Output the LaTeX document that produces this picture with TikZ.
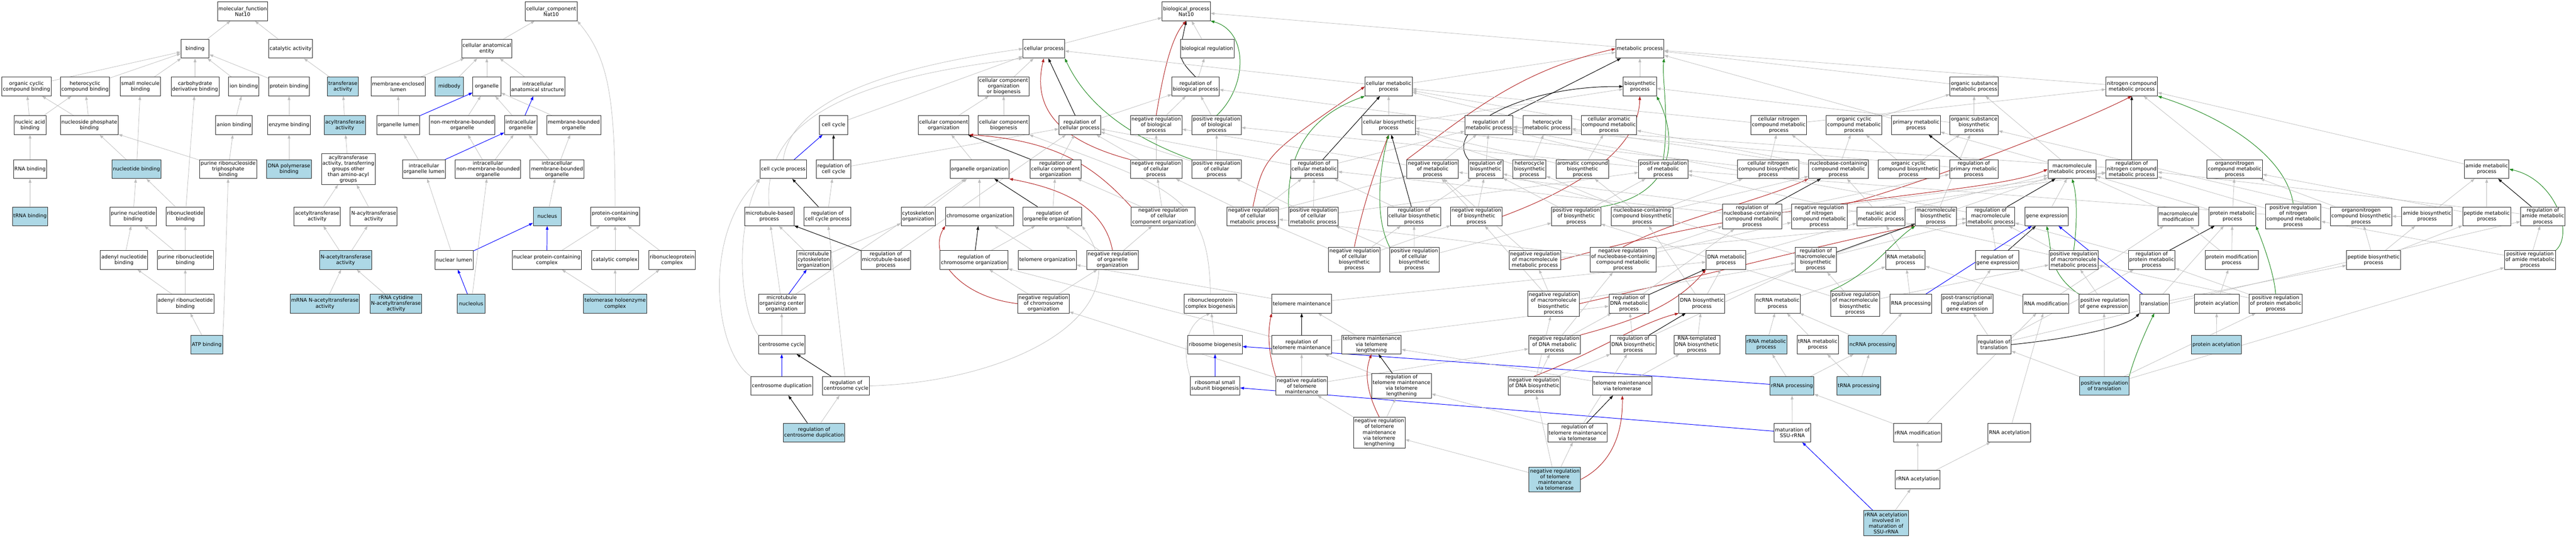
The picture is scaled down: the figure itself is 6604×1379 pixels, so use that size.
\documentclass[tikz,border=0pt]{standalone}
\usepackage{fontspec}
\setmainfont{DejaVu Sans}
\usetikzlibrary{arrows.meta,backgrounds}
\definecolor{lb}{HTML}{ADD8E6}
\definecolor{eg}{HTML}{BEBEBE}
\definecolor{er}{HTML}{B22222}
\definecolor{egr}{HTML}{228B22}
\definecolor{eb}{HTML}{0000FF}
\newcommand\edg[3]{\draw[#1] (#2) -- (#3);}
\begin{document}
\begin{tikzpicture}[x=1pt,y=-1pt,
 box/.style={draw=black!85, line width=1.2pt, fill=white, rectangle, align=center,
   font=\fontsize{13}{14.7}\selectfont, inner xsep=2.5pt, inner ysep=2pt,
   minimum width=72pt, minimum height=48pt},
 hl/.style={box, fill=lb},
 l4/.style={minimum height=64pt},
 l5/.style={minimum height=79pt},
 ge/.style={eg, line width=1pt, -{Triangle[length=10pt,width=7pt]}},
 be/.style={eb, line width=1.3pt, -{Triangle[length=10pt,width=7pt]}},
 ke/.style={black, line width=1.3pt, -{Triangle[length=10pt,width=7pt]}},
 re/.style={er, line width=1.3pt, -{Triangle[length=10pt,width=7pt]}},
 gre/.style={egr, line width=1.3pt, -{Triangle[length=10pt,width=7pt]}}]
\useasboundingbox (0,0) rectangle (6604,1379);
% ---------------- molecular function
\node[box] (mf) at (622,29) {molecular\_function\\Nat10};
\node[box] (bind) at (500,125) {binding};
\node[box] (catal) at (745,125) {catalytic activity};
\node[box] (ocb) at (68,222) {organic cyclic\\compound binding};
\node[box] (hcb) at (218,222) {heterocyclic\\compound binding};
\node[box] (smb) at (360,222) {small molecule\\binding};
\node[box] (cdb) at (500,222) {carbohydrate\\derivative binding};
\node[box] (ion) at (625,222) {ion binding};
\node[box] (protb) at (741,222) {protein binding};
\node[hl] (transf) at (879,222) {transferase\\activity};
\node[box] (mel) at (1021,222) {membrane-enclosed\\lumen};
\node[box] (nab) at (77,321) {nucleic acid\\binding};
\node[box] (npb) at (229,321) {nucleoside phosphate\\binding};
\node[box] (anion) at (600,321) {anion binding};
\node[box] (enzb) at (741,321) {enzyme binding};
\node[hl] (acyl) at (884,321) {acyltransferase\\activity};
\node[box] (orglum) at (1021,321) {organelle lumen};
\node[box] (rnab) at (77,434) {RNA binding};
\node[hl] (ntb) at (350,434) {nucleotide binding};
\node[box] (prtb) at (585,434) {purine ribonucleoside\\triphosphate\\binding};
\node[hl] (dnapb) at (741,434) {DNA polymerase\\binding};
\node[box,l5] (acylo) at (893,434) {acyltransferase\\activity, transferring\\groups other\\than amino-acyl\\groups};
\node[box] (iol) at (1087,434) {intracellular\\organelle lumen};
\node[hl] (trnab) at (77,555) {tRNA binding};
\node[box] (pnb) at (341,555) {purine nucleotide\\binding};
\node[box] (rnb) at (475,555) {ribonucleotide\\binding};
\node[box] (acet) at (813,555) {acetyltransferase\\activity};
\node[box] (nacyl) at (958,555) {N-acyltransferase\\activity};
\node[box] (anb) at (318,667) {adenyl nucleotide\\binding};
\node[box] (prnb) at (475,667) {purine ribonucleotide\\binding};
\node[hl] (nacet) at (886,667) {N-acetyltransferase\\activity};
\node[box] (arnb) at (475,779) {adenyl ribonucleotide\\binding};
\node[hl] (mrnaac) at (833,779) {mRNA N-acetyltransferase\\activity};
\node[hl] (rrnacyt) at (1015,779) {rRNA cytidine\\N-acetyltransferase\\activity};
\node[hl] (atp) at (530,884) {ATP binding};
% ---------------- cellular component
\node[box] (cc) at (1413,29) {cellular\_component\\Nat10};
\node[box] (cae) at (1248,125) {cellular anatomical\\entity};
\node[hl] (midbody) at (1152,222) {midbody};
\node[box] (organelle) at (1248,222) {organelle};
\node[box] (ias) at (1378,222) {intracellular\\anatomical structure};
\node[box] (nmbo) at (1185,321) {non-membrane-bounded\\organelle};
\node[box] (io) at (1335,321) {intracellular\\organelle};
\node[box] (mbo) at (1471,321) {membrane-bounded\\organelle};
\node[box] (inmbo) at (1251,434) {intracellular\\non-membrane-bounded\\organelle};
\node[box] (imbo) at (1428,434) {intracellular\\membrane-bounded\\organelle};
\node[hl] (nucleus) at (1403,555) {nucleus};
\node[box] (pcc) at (1577,555) {protein-containing\\complex};
\node[box] (nuclum) at (1164,667) {nuclear lumen};
\node[box] (npcc) at (1402,667) {nuclear protein-containing\\complex};
\node[box] (catcx) at (1577,667) {catalytic complex};
\node[box] (rnpc) at (1723,667) {ribonucleoprotein\\complex};
\node[hl] (nucleolus) at (1208,779) {nucleolus};
\node[hl] (telhc) at (1577,779) {telomerase holoenzyme\\complex};
% ---------------- biological process: cell cycle
\node[box] (cellcycle) at (2137,321) {cell cycle};
\node[box] (ccp) at (2008,434) {cell cycle process};
\node[box] (regcc) at (2137,434) {regulation of\\cell cycle};
\node[box] (mtbp) at (1972,555) {microtubule-based\\process};
\node[box] (regccp) at (2121,555) {regulation of\\cell cycle process};
\node[box] (mtco) at (2086,667) {microtubule\\cytoskeleton\\organization};
\node[box] (mtoc) at (2004,779) {microtubule\\organizing center\\organization};
\node[box] (centcyc) at (2004,884) {centrosome cycle};
\node[box] (centdup) at (2004,990) {centrosome duplication};
\node[box] (regcentcyc) at (2169,990) {regulation of\\centrosome cycle};
\node[hl] (regcentdup) at (2087,1110) {regulation of\\centrosome duplication};
% ---------------- biological process: general
\node[box] (bp) at (3041,29) {biological\_process\\Nat10};
\node[box] (cp) at (2676,125) {cellular process};
\node[box] (breg) at (3095,125) {biological regulation};
\node[box] (ccob) at (2573,222) {cellular component\\organization\\or biogenesis};
\node[box] (rbp) at (3065,222) {regulation of\\biological process};
\node[box] (cco) at (2419,321) {cellular component\\organization};
\node[box] (ccb) at (2573,321) {cellular component\\biogenesis};
\node[box] (rcp) at (2768,321) {regulation of\\cellular process};
\node[box] (nrbp) at (2964,321) {negative regulation\\of biological\\process};
\node[box] (prbp) at (3119,321) {positive regulation\\of biological\\process};
\node[box] (oo) at (2511,434) {organelle organization};
\node[box] (rcco) at (2706,434) {regulation of\\cellular component\\organization};
\node[box] (nrcp) at (2964,434) {negative regulation\\of cellular\\process};
\node[box] (prcp) at (3119,434) {positive regulation\\of cellular\\process};
\node[box] (cso) at (2354,555) {cytoskeleton\\organization};
\node[box] (chro) at (2511,555) {chromosome organization};
\node[box] (roo) at (2698,555) {regulation of\\organelle organization};
\node[box] (nrcco) at (2982,555) {negative regulation\\of cellular\\component organization};
\node[box] (nrcmp) at (3212,555) {negative regulation\\of cellular\\metabolic process};
\node[box] (rmtbp) at (2271,667) {regulation of\\microtubule-based\\process};
\node[box] (rchro) at (2497,667) {regulation of\\chromosome organization};
\node[box] (telo) at (2685,667) {telomere organization};
\node[box] (nroo) at (2852,667) {negative regulation\\of organelle\\organization};
\node[box] (nrchro) at (2675,779) {negative regulation\\of chromosome\\organization};
\node[box] (rnpcb) at (3103,779) {ribonucleoprotein\\complex biogenesis};
\node[box] (ribob) at (3115,884) {ribosome biogenesis};
\node[box] (rssb) at (3115,990) {ribosomal small\\subunit biogenesis};
\node[box] (telm) at (3337,779) {telomere maintenance};
\node[box] (rtelm) at (3337,884) {regulation of\\telomere maintenance};
\node[box] (nrtelm) at (3337,990) {negative regulation\\of telomere\\maintenance};
% ---------------- metabolic
\node[box] (mp) at (4204,125) {metabolic process};
\node[box] (cmp) at (3560,222) {cellular metabolic\\process};
\node[box] (bsp) at (4204,222) {biosynthetic\\process};
\node[box] (cbp) at (3560,321) {cellular biosynthetic\\process};
\node[box] (rmp) at (3817,321) {regulation of\\metabolic process};
\node[box] (hmp) at (3967,321) {heterocycle\\metabolic process};
\node[box] (camp) at (4125,321) {cellular aromatic\\compound metabolic\\process};
\node[box] (rcmp) at (3369,434) {regulation of\\cellular metabolic\\process};
\node[box] (nrmp) at (3673,434) {negative regulation\\of metabolic\\process};
\node[box] (rbsp) at (3809,434) {regulation of\\biosynthetic\\process};
\node[box] (hbp) at (3921,434) {heterocycle\\biosynthetic\\process};
\node[box] (acbp) at (4057,434) {aromatic compound\\biosynthetic\\process};
\node[box] (prmp) at (4264,434) {positive regulation\\of metabolic\\process};
\node[box] (prcmp) at (3367,555) {positive regulation\\of cellular\\metabolic process};
\node[box] (rcbp) at (3625,555) {regulation of\\cellular biosynthetic\\process};
\node[box] (nrbsp) at (3785,555) {negative regulation\\of biosynthetic\\process};
\node[box] (prbsp) at (4041,555) {positive regulation\\of biosynthetic\\process};
\node[box] (nbcbp) at (4210,555) {nucleobase-containing\\compound biosynthetic\\process};
\node[box,l4] (nrcbp) at (3472,666) {negative regulation\\of cellular\\biosynthetic\\process};
\node[box,l4] (prcbp) at (3626,666) {positive regulation\\of cellular\\biosynthetic\\process};
\node[box] (nrmmp) at (3935,667) {negative regulation\\of macromolecule\\metabolic process};
\node[box,l4] (nrnbcmp) at (4161,666) {negative regulation\\of nucleobase-containing\\compound metabolic\\process};
\node[box] (dnamp) at (4425,667) {DNA metabolic\\process};
\node[box,l4] (nrmbp) at (3983,779) {negative regulation\\of macromolecule\\biosynthetic\\process};
\node[box] (rdnamp) at (4176,779) {regulation of\\DNA metabolic\\process};
\node[box] (dnabp) at (4363,779) {DNA biosynthetic\\process};
\node[box] (tmtl) at (3516,884) {telomere maintenance\\via telomere\\lengthening};
\node[box] (nrdnamp) at (3985,884) {negative regulation\\of DNA metabolic\\process};
\node[box] (rdnabp) at (4187,884) {regulation of\\DNA biosynthetic\\process};
\node[box] (rtdbp) at (4350,884) {RNA-templated\\DNA biosynthetic\\process};
\node[box,l4] (rtmtl) at (3593,990) {regulation of\\telomere maintenance\\via telomere\\lengthening};
\node[box] (nrdnabp) at (3933,990) {negative regulation\\of DNA biosynthetic\\process};
\node[box] (tmvt) at (4159,990) {telomere maintenance\\via telomerase};
\node[box,l5] (nrtmtl) at (3536,1110) {negative regulation\\of telomere\\maintenance\\via telomere\\lengthening};
\node[box] (rtmvt) at (4044,1110) {regulation of\\telomere maintenance\\via telomerase};
\node[hl,l4] (nrtmvt) at (3986,1230) {negative regulation\\of telomere\\maintenance\\via telomerase};
\node[box] (osmp) at (5061,222) {organic substance\\metabolic process};
\node[box] (ncmp) at (5465,222) {nitrogen compound\\metabolic process};
\node[box] (cncmp) at (4560,321) {cellular nitrogen\\compound metabolic\\process};
\node[box] (occmp) at (4753,321) {organic cyclic\\compound metabolic\\process};
\node[box] (pmp) at (4912,321) {primary metabolic\\process};
\node[box] (osbp) at (5061,321) {organic substance\\biosynthetic\\process};
\node[box] (cncbp) at (4533,434) {cellular nitrogen\\compound biosynthetic\\process};
\node[box] (nbcmp) at (4713,434) {nucleobase-containing\\compound metabolic\\process};
\node[box] (occbp) at (4893,434) {organic cyclic\\compound biosynthetic\\process};
\node[box] (rpmp) at (5060,434) {regulation of\\primary metabolic\\process};
\node[box] (mmp) at (5312,434) {macromolecule\\metabolic process};
\node[box] (rncmp) at (5465,434) {regulation of\\nitrogen compound\\metabolic process};
\node[box,l4] (rnbcmp) at (4492,555) {regulation of\\nucleobase-containing\\compound metabolic\\process};
\node[box,l4] (nrncmp) at (4664,555) {negative regulation\\of nitrogen\\compound metabolic\\process};
\node[box] (namp) at (4822,555) {nucleic acid\\metabolic process};
\node[box] (mbp) at (4963,555) {macromolecule\\biosynthetic\\process};
\node[box] (rmmp) at (5103,555) {regulation of\\macromolecule\\metabolic process};
\node[box] (gexp) at (5247,555) {gene expression};
\node[box,l4] (rmbp) at (4655,666) {regulation of\\macromolecule\\biosynthetic\\process};
\node[box] (rnamp) at (4885,667) {RNA metabolic\\process};
\node[box] (rgexp) at (5120,667) {regulation of\\gene expression};
\node[box] (prmmp) at (5316,667) {positive regulation\\of macromolecule\\metabolic process};
\node[box] (rprmp) at (5516,667) {regulation of\\protein metabolic\\process};
\node[box] (ncrnamp) at (4557,779) {ncRNA metabolic\\process};
\node[box,l4] (prmbp) at (4756,779) {positive regulation\\of macromolecule\\biosynthetic\\process};
\node[box] (rnaproc) at (4899,779) {RNA processing};
\node[box] (ptrge) at (5043,779) {post-transcriptional\\regulation of\\gene expression};
\node[box] (rnamod) at (5245,779) {RNA modification};
\node[box] (prgexp) at (5394,779) {positive regulation\\of gene expression};
\node[box] (transl) at (5523,779) {translation};
\node[hl] (rrnamp) at (4528,884) {rRNA metabolic\\process};
\node[box] (trnamp) at (4660,884) {tRNA metabolic\\process};
\node[hl] (ncrnaproc) at (4800,884) {ncRNA processing};
\node[box] (rtransl) at (5112,884) {regulation of\\translation};
\node[hl] (rrnaproc) at (4594,990) {rRNA processing};
\node[hl] (trnaproc) at (4765,990) {tRNA processing};
\node[hl] (ptransl) at (5395,990) {positive regulation\\of translation};
\node[box] (matssu) at (4595,1110) {maturation of\\SSU-rRNA};
\node[box] (rrnamod) at (4916,1110) {rRNA modification};
\node[box] (rnaacet) at (5151,1110) {RNA acetylation};
\node[box] (rrnaacet) at (4916,1230) {rRNA acetylation};
\node[hl,l4] (rrnaacetm) at (4835,1342) {rRNA acetylation\\involved in\\maturation of\\SSU-rRNA};
\node[box] (oncmp) at (5729,434) {organonitrogen\\compound metabolic\\process};
\node[box] (amp) at (6375,434) {amide metabolic\\process};
\node[box] (mmod) at (5584,555) {macromolecule\\modification};
\node[box] (protmp) at (5723,555) {protein metabolic\\process};
\node[box,l4] (prncmp) at (5879,555) {positive regulation\\of nitrogen\\compound metabolic\\process};
\node[box] (oncbp) at (6053,555) {organonitrogen\\compound biosynthetic\\process};
\node[box] (abp) at (6222,555) {amide biosynthetic\\process};
\node[box] (pepmp) at (6375,555) {peptide metabolic\\process};
\node[box] (ramp) at (6519,555) {regulation of\\amide metabolic\\process};
\node[box] (pmodp) at (5721,667) {protein modification\\process};
\node[box] (pepbp) at (6085,667) {peptide biosynthetic\\process};
\node[box] (pramp) at (6486,667) {positive regulation\\of amide metabolic\\process};
\node[box] (pacyl) at (5683,779) {protein acylation};
\node[box] (prprmp) at (5834,779) {positive regulation\\of protein metabolic\\process};
\node[hl] (pacet) at (5682,884) {protein acetylation};
% ================= edges
\begin{scope}[on background layer]
\fill[white] (0,0) rectangle (6604,1379);
% MF
\edg{ge}{bind}{mf}\edg{ge}{catal}{mf}
\edg{ge}{ocb}{bind}\edg{ge}{hcb}{bind}\edg{ge}{smb}{bind}\edg{ge}{cdb}{bind}\edg{ge}{ion}{bind}\edg{ge}{protb}{bind}
\edg{ge}{transf}{catal}\edg{ge}{mel}{cae}
\edg{ge}{nab}{ocb}\edg{ge}{nab}{hcb}\edg{ge}{npb}{ocb}\edg{ge}{npb}{hcb}
\edg{ge}{anion}{ion}\edg{ge}{enzb}{protb}\edg{ge}{acyl}{transf}
\edg{ge}{orglum}{mel}\edg{be}{orglum}{organelle}
\edg{ge}{rnab}{nab}\edg{ge}{ntb}{npb}\edg{ge}{ntb}{smb}
\edg{ge}{prtb}{npb}\edg{ge}{prtb}{anion}\edg{ge}{dnapb}{enzb}\edg{ge}{acylo}{acyl}
\edg{ge}{iol}{orglum}\edg{be}{iol}{io}
\edg{ge}{trnab}{rnab}\edg{ge}{pnb}{ntb}\edg{ge}{rnb}{ntb}\edg{ge}{rnb}{cdb}
\edg{ge}{acet}{acylo}\edg{ge}{nacyl}{acylo}
\edg{ge}{anb}{pnb}\edg{ge}{prnb}{pnb}\edg{ge}{prnb}{rnb}
\edg{ge}{nacet}{acet}\edg{ge}{nacet}{nacyl}
\edg{ge}{arnb}{anb}\edg{ge}{arnb}{prnb}
\edg{ge}{atp}{arnb}
\draw[ge] (atp.north east) .. controls (575,800) and (580,600) .. (prtb.south);
\edg{ge}{mrnaac}{nacet}\edg{ge}{rrnacyt}{nacet}
% CC
\edg{ge}{cae}{cc}
\draw[ge] (pcc.north) .. controls (1577,250) and (1560,150) .. (cc.south east);
\edg{ge}{midbody}{cae}\edg{ge}{organelle}{cae}\edg{ge}{ias}{cae}
\edg{ge}{nmbo}{organelle}\edg{ge}{io}{organelle}\edg{ge}{mbo}{organelle}
\edg{be}{io}{ias}
\edg{ge}{inmbo}{nmbo}\edg{ge}{inmbo}{io}\edg{ge}{imbo}{io}\edg{ge}{imbo}{mbo}
\edg{ge}{nucleus}{imbo}
\edg{be}{nuclum}{nucleus}\edg{ge}{nuclum}{iol}
\edg{be}{npcc}{nucleus}\edg{ge}{npcc}{pcc}
\edg{ge}{catcx}{pcc}\edg{ge}{rnpc}{pcc}
\edg{be}{nucleolus}{nuclum}\edg{ge}{nucleolus}{inmbo}
\edg{ge}{telhc}{npcc}\edg{ge}{telhc}{catcx}\edg{ge}{telhc}{rnpc}
% cell cycle
\edg{ge}{cellcycle}{cp}
\draw[ge] (ccp.north) .. controls (2030,250) and (2300,170) .. (cp.west);
\draw[ge] (mtbp.north) .. controls (1950,300) and (2200,200) .. (cp.south west);
\edg{be}{ccp}{cellcycle}\edg{ke}{regcc}{cellcycle}\edg{ge}{regcc}{rcp}
\edg{ke}{regccp}{ccp}\edg{ge}{regccp}{regcc}
\edg{ge}{mtco}{mtbp}\edg{ge}{mtco}{cso}
\edg{be}{mtoc}{mtco}\edg{ge}{mtoc}{mtbp}\edg{ge}{mtoc}{oo}
\edg{ge}{centcyc}{mtoc}
\draw[ge] (centcyc.north west) .. controls (1900,800) and (1880,600) .. (ccp.south west);
\edg{be}{centdup}{centcyc}
\draw[ge] (centdup.north west) .. controls (1830,900) and (1800,600) .. (ccp.south west);
\edg{ke}{regcentcyc}{centcyc}\edg{ge}{regcentcyc}{regccp}
\draw[ge] (regcentcyc.east) .. controls (2600,980) and (2930,800) .. (roo.south east);
\edg{ke}{regcentdup}{centdup}\edg{ge}{regcentdup}{regcentcyc}
% BP general
\edg{ge}{cp}{bp}\edg{ge}{breg}{bp}\edg{ge}{mp}{bp}
\edg{ge}{rbp}{breg}\draw[ke] (rbp.north) .. controls (3020,150) .. (bp.south);
\draw[re] (nrbp.north) .. controls (2980,200) and (3000,100) .. (bp.south);
\edg{ge}{nrbp}{rbp}
\draw[gre] (prbp.north) .. controls (3200,220) and (3200,80) .. (bp.south east);
\edg{ge}{prbp}{rbp}
\edg{ge}{ccob}{cp}
\edg{ke}{rcp}{cp}\edg{ge}{rcp}{rbp}
\draw[re] (nrcp.north west) .. controls (2750,370) and (2640,300) .. (cp.south);
\edg{ge}{nrcp}{nrbp}\edg{ge}{nrcp}{rcp}
\draw[gre] (prcp.north west) .. controls (2950,370) and (2800,300) .. (cp.south east);
\edg{ge}{prcp}{prbp}\edg{ge}{prcp}{rcp}
\edg{ge}{cco}{ccob}\edg{ge}{ccb}{ccob}
\edg{ke}{rcco}{cco}\edg{ge}{rcco}{rcp}
\draw[re] (nrcco.north west) .. controls (2800,420) and (2700,360) .. (cco.south east);
\edg{ge}{nrcco}{rcco}\edg{ge}{nrcco}{nrcp}
\edg{ge}{oo}{cco}\edg{ge}{cso}{oo}\edg{ge}{chro}{oo}
\edg{ke}{roo}{oo}\edg{ge}{roo}{rcco}
\draw[re] (nroo.north) .. controls (2830,520) and (2700,480) .. (oo.south east);
\edg{ge}{nroo}{roo}\edg{ge}{nroo}{nrcco}
\edg{ge}{nrcmp}{nrcp}\draw[re] (nrcmp.north) .. controls (3240,400) .. (cmp.west);
\edg{ge}{nrcmp}{nrmp}\edg{ge}{nrcmp}{rcmp}
\edg{ke}{rchro}{chro}\edg{ge}{rchro}{roo}\edg{ge}{telo}{chro}
\edg{ke}{rmtbp}{mtbp}\edg{ge}{rmtbp}{rcp}
\edg{ge}{nrchro}{rchro}\edg{ge}{nrchro}{nroo}
\draw[re] (nrchro.west) .. controls (2450,760) and (2380,650) .. (chro.south west);
\edg{ge}{telm}{telo}\edg{ge}{telm}{dnamp}
\edg{ke}{rtelm}{telm}\edg{ge}{rtelm}{rchro}\edg{ge}{rtelm}{rdnamp}
\edg{ge}{nrtelm}{rtelm}
\draw[re] (nrtelm.north west) .. controls (3250,900) and (3250,850) .. (telm.south west);
\edg{ge}{nrtelm}{nrchro}\edg{ge}{nrtelm}{nrdnamp}
\draw[ge] (rnpcb.north) .. controls (3100,500) and (3000,480) .. (ccb.south east);
\edg{ge}{ribob}{rnpcb}
\edg{be}{rssb}{ribob}
\draw[ge] (rssb.north west) .. controls (3030,900) and (3040,830) .. (rnpcb.south);
\edg{be}{rrnaproc}{ribob}\edg{be}{matssu}{rssb}
% metabolic
\edg{ge}{cmp}{mp}\edg{ge}{cmp}{cp}\edg{ge}{bsp}{mp}
\edg{ge}{cbp}{cmp}\edg{ge}{cbp}{bsp}
\edg{ke}{rmp}{mp}\edg{ge}{rmp}{rbp}
\edg{ge}{hmp}{cmp}\edg{ge}{camp}{cmp}
\edg{ke}{rcmp}{cmp}\edg{ge}{rcmp}{rmp}\edg{ge}{rcmp}{rcp}
\draw[re] (nrmp.north west) .. controls (3780,280) and (3900,180) .. (mp.west);
\edg{ge}{nrmp}{rmp}\edg{ge}{nrmp}{nrbp}
\draw[ke] (rbsp.north west) .. controls (3700,330) and (3900,220) .. (bsp.west);
\edg{ge}{rbsp}{rmp}
\edg{ge}{hbp}{hmp}\edg{ge}{hbp}{cbp}\edg{ge}{acbp}{camp}\edg{ge}{acbp}{cbp}
\draw[gre] (prmp.north) .. controls (4280,300) and (4260,200) .. (mp.south east);
\edg{ge}{prmp}{rmp}\edg{ge}{prmp}{prbp}
\draw[gre] (prcmp.north west) .. controls (3300,400) and (3350,300) .. (cmp.south west);
\edg{ge}{prcmp}{rcmp}\edg{ge}{prcmp}{prmp}\edg{ge}{prcmp}{prcp}
\edg{ke}{rcbp}{cbp}\edg{ge}{rcbp}{rbsp}\edg{ge}{rcbp}{rcmp}
\draw[re] (nrbsp.east) .. controls (4000,500) and (4200,400) .. (bsp.south);
\edg{ge}{nrbsp}{rbsp}\edg{ge}{nrbsp}{nrmp}
\draw[gre] (prbsp.north east) .. controls (4300,500) and (4300,350) .. (bsp.south east);
\edg{ge}{prbsp}{rbsp}\edg{ge}{prbsp}{prmp}
\edg{ge}{nbcbp}{nbcmp}\edg{ge}{nbcbp}{hbp}\edg{ge}{nbcbp}{acbp}\edg{ge}{nbcbp}{cncbp}
\draw[re] (nrcbp.north) .. controls (3500,500) and (3540,400) .. (cbp.south);
\edg{ge}{nrcbp}{rcbp}\edg{ge}{nrcbp}{nrbsp}\edg{ge}{nrcbp}{nrcmp}
\draw[gre] (prcbp.north west) .. controls (3520,550) and (3540,420) .. (cbp.south);
\edg{ge}{prcbp}{rcbp}\edg{ge}{prcbp}{prbsp}\edg{ge}{prcbp}{prcmp}
\draw[re] (nrmmp.east) .. controls (4600,500) and (5100,500) .. (mmp.west);
\edg{ge}{nrmmp}{rmmp}\edg{ge}{nrmmp}{nrmp}
\draw[re] (nrnbcmp.north) .. controls (4300,560) and (4500,520) .. (nbcmp.south west);
\edg{ge}{nrnbcmp}{rnbcmp}\edg{ge}{nrnbcmp}{nrcmp}\edg{ge}{nrnbcmp}{nrncmp}
\edg{ge}{dnamp}{namp}
\draw[re] (nrmbp.east) .. controls (4400,700) and (4700,620) .. (mbp.south west);
\edg{ge}{nrmbp}{nrmmp}\edg{ge}{nrmbp}{nrbsp}\edg{ge}{nrmbp}{rmbp}
\edg{ke}{rdnamp}{dnamp}\edg{ge}{rdnamp}{rnbcmp}
\edg{ge}{dnabp}{dnamp}\edg{ge}{dnabp}{nbcbp}\edg{ge}{dnabp}{mbp}
\edg{ge}{tmtl}{telm}
\draw[re] (nrdnamp.north east) .. controls (4200,820) and (4300,780) .. (dnamp.south west);
\edg{ge}{nrdnamp}{rdnamp}\edg{ge}{nrdnamp}{nrnbcmp}
\edg{ke}{rdnabp}{dnabp}\edg{ge}{rdnabp}{rdnamp}\edg{ge}{rdnabp}{rmbp}
\edg{ge}{rtdbp}{dnabp}
\edg{ke}{rtmtl}{tmtl}\edg{ge}{rtmtl}{rtelm}
\draw[re] (nrdnabp.north) .. controls (4100,900) and (4200,830) .. (dnabp.south west);
\edg{ge}{nrdnabp}{rdnabp}\edg{ge}{nrdnabp}{nrdnamp}\edg{ge}{nrdnabp}{nrmbp}
\edg{ge}{tmvt}{tmtl}\edg{ge}{tmvt}{rtdbp}
\edg{ge}{nrtmtl}{rtmtl}
\draw[re] (nrtmtl.north) .. controls (3500,1000) and (3500,950) .. (tmtl.south);
\edg{ge}{nrtmtl}{nrtelm}
\edg{ke}{rtmvt}{tmvt}\edg{ge}{rtmvt}{rtmtl}\edg{ge}{rtmvt}{rdnabp}
\edg{ge}{nrtmvt}{rtmvt}
\draw[re] (nrtmvt.east) .. controls (4150,1180) and (4160,1080) .. (tmvt.south);
\edg{ge}{nrtmvt}{nrtmtl}\edg{ge}{nrtmvt}{nrdnabp}
\edg{ge}{osmp}{mp}\edg{ge}{ncmp}{mp}
\edg{ge}{cncmp}{cmp}\edg{ge}{cncmp}{ncmp}\edg{ge}{occmp}{osmp}\edg{ge}{pmp}{mp}
\edg{ge}{osbp}{osmp}\edg{ge}{osbp}{bsp}
\edg{ge}{cncbp}{cncmp}\edg{ge}{cncbp}{cbp}
\edg{ge}{nbcmp}{cncmp}\edg{ge}{nbcmp}{occmp}\edg{ge}{nbcmp}{hmp}\edg{ge}{nbcmp}{camp}
\edg{ge}{occbp}{occmp}\edg{ge}{occbp}{osbp}
\edg{ke}{rpmp}{pmp}\edg{ge}{rpmp}{rmp}
\edg{ge}{mmp}{osmp}\edg{ge}{mmp}{pmp}
\edg{ke}{rncmp}{ncmp}\edg{ge}{rncmp}{rmp}
\edg{ke}{rnbcmp}{nbcmp}\edg{ge}{rnbcmp}{rcmp}\edg{ge}{rnbcmp}{rncmp}\edg{ge}{rnbcmp}{rpmp}
\draw[re] (nrncmp.north east) .. controls (4900,480) and (5300,330) .. (ncmp.south);
\edg{ge}{nrncmp}{rncmp}\edg{ge}{nrncmp}{nrmp}
\edg{ge}{namp}{nbcmp}\edg{ge}{namp}{mmp}
\edg{ge}{mbp}{mmp}\edg{ge}{mbp}{osbp}
\edg{ke}{rmmp}{mmp}\edg{ge}{rmmp}{rmp}
\edg{ge}{gexp}{mmp}
\edg{ke}{rmbp}{mbp}\edg{ge}{rmbp}{rmmp}\edg{ge}{rmbp}{rbsp}
\edg{ge}{rnamp}{namp}
\edg{ke}{rgexp}{gexp}\edg{ge}{rgexp}{rmmp}
\draw[gre] (prmmp.north) .. controls (5320,620) and (5330,520) .. (mmp.south);
\edg{ge}{prmmp}{rmmp}\edg{ge}{prmmp}{prmp}
\edg{ke}{rprmp}{protmp}\edg{ge}{rprmp}{rmmp}
\edg{ge}{oncmp}{ncmp}\edg{ge}{amp}{ncmp}
\draw[gre] (prncmp.north) .. controls (5860,400) and (5700,300) .. (ncmp.south east);
\edg{ge}{prncmp}{rncmp}\edg{ge}{prncmp}{prmp}
\edg{ge}{mmod}{mmp}\edg{ge}{protmp}{mmp}\edg{ge}{protmp}{oncmp}
\edg{ge}{oncbp}{oncmp}\edg{ge}{oncbp}{osbp}
\edg{ge}{abp}{amp}\edg{ge}{abp}{oncbp}
\edg{ge}{pepmp}{amp}\edg{ge}{pepmp}{oncmp}
\edg{ke}{ramp}{amp}\edg{ge}{ramp}{rncmp}
\edg{ge}{pmodp}{mmod}\edg{ge}{pmodp}{protmp}
\edg{ge}{pepbp}{pepmp}\edg{ge}{pepbp}{abp}\edg{ge}{pepbp}{oncbp}
\draw[gre] (pramp.north east) .. controls (6600,600) and (6550,460) .. (amp.east);
\edg{ge}{pramp}{ramp}\edg{ge}{pramp}{prncmp}
\edg{ge}{ncrnamp}{rnamp}
\draw[gre] (prmbp.north west) .. controls (4800,700) and (4850,620) .. (mbp.south west);
\edg{ge}{prmbp}{rmbp}\edg{ge}{prmbp}{prmmp}\edg{ge}{prmbp}{prbsp}
\edg{ge}{rnaproc}{rnamp}\edg{be}{rnaproc}{gexp}
\edg{ge}{ptrge}{rgexp}
\edg{ge}{rnamod}{rnamp}\edg{ge}{rnamod}{mmod}
\draw[gre] (prgexp.north west) .. controls (5250,700) and (5260,640) .. (gexp.south);
\edg{ge}{prgexp}{rgexp}\edg{ge}{prgexp}{prmmp}
\edg{be}{transl}{gexp}\edg{ge}{transl}{pepbp}\edg{ge}{transl}{protmp}
\edg{ge}{rrnamp}{ncrnamp}\edg{ge}{trnamp}{ncrnamp}
\edg{ge}{ncrnaproc}{ncrnamp}\edg{ge}{ncrnaproc}{rnaproc}
\draw[ke] (rtransl.east) .. controls (5300,870) and (5450,840) .. (transl.south west);
\edg{ge}{rtransl}{ptrge}\edg{ge}{rtransl}{ramp}\edg{ge}{rtransl}{rprmp}
\edg{ge}{rrnaproc}{rrnamp}\edg{ge}{rrnaproc}{ncrnaproc}
\edg{ge}{trnaproc}{trnamp}\edg{ge}{trnaproc}{ncrnaproc}
\draw[gre] (ptransl.north east) .. controls (5470,920) and (5500,850) .. (transl.south);
\edg{ge}{ptransl}{rtransl}\edg{ge}{ptransl}{prgexp}\edg{ge}{ptransl}{pramp}\edg{ge}{ptransl}{prprmp}
\edg{ge}{matssu}{rrnaproc}
\edg{ge}{rrnamod}{rrnaproc}\edg{ge}{rrnamod}{rnamod}
\edg{ge}{rnaacet}{rnamod}
\edg{ge}{rrnaacet}{rrnamod}\edg{ge}{rrnaacet}{rnaacet}
\edg{ge}{rrnaacetm}{rrnaacet}\edg{be}{rrnaacetm}{matssu}
\edg{ge}{pacyl}{pmodp}
\draw[gre] (prprmp.north) .. controls (5830,700) and (5800,620) .. (protmp.south east);
\edg{ge}{prprmp}{rprmp}\edg{ge}{prprmp}{prmmp}
\edg{ge}{pacet}{pacyl}
\end{scope}
\end{tikzpicture}
\end{document}
